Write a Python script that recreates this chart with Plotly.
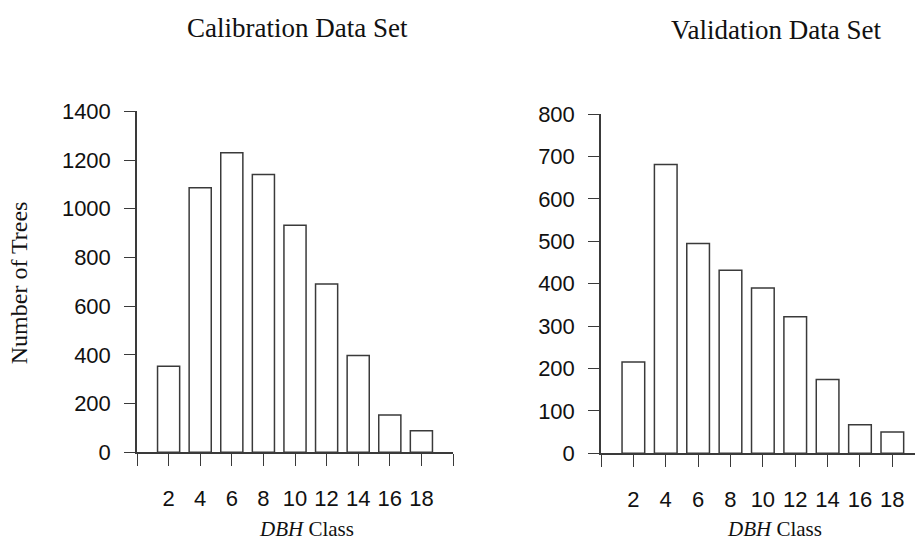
import plotly.graph_objects as go

dbh_class = [2, 4, 6, 8, 10, 12, 14, 16, 18]
calibration_counts = [353, 1086, 1230, 1141, 932, 691, 397, 153, 88]
validation_counts = [215, 681, 495, 432, 390, 322, 174, 67, 50]

x_tickvals = [0, 2, 4, 6, 8, 10, 12, 14, 16, 18, 20]
x_ticktext = ["", "2", "4", "6", "8", "10", "12", "14", "16", "18", ""]
cal_yticks = [0, 200, 400, 600, 800, 1000, 1200, 1400]
val_yticks = [0, 100, 200, 300, 400, 500, 600, 700, 800]

W, H = 915, 556
LINE = "#3a3a3a"
TICKFONT = dict(family="Liberation Sans, Arial, sans-serif", size=22, color="#111")
SERIF = "Liberation Serif, Times New Roman, serif"

def px(xp):
    return xp / W

def py(yp):
    return 1 - yp / H

fig = go.Figure()
fig.add_trace(go.Bar(x=dbh_class, y=calibration_counts, width=1.4,
                     marker=dict(color="white", line=dict(color=LINE, width=1.5)),
                     xaxis="x", yaxis="y", showlegend=False))
fig.add_trace(go.Bar(x=dbh_class, y=validation_counts, width=1.4,
                     marker=dict(color="white", line=dict(color=LINE, width=1.5)),
                     xaxis="x2", yaxis="y2", showlegend=False))

xcommon = dict(tickvals=x_tickvals, ticktext=x_ticktext, showline=True, linecolor=LINE,
               linewidth=1.5, ticks="outside", ticklen=12, tickwidth=1.2, tickcolor=LINE,
               showgrid=False, zeroline=False, tickfont=TICKFONT, ticklabelstandoff=14)
ycommon = dict(showline=True, linecolor=LINE, linewidth=1.5, ticks="outside", ticklen=11,
               tickwidth=1.2, tickcolor=LINE, showgrid=False, zeroline=False,
               tickfont=TICKFONT, ticklabelstandoff=9)

fig.update_layout(
    width=W, height=H, margin=dict(l=0, r=0, t=0, b=0),
    paper_bgcolor="white", plot_bgcolor="white",
    xaxis=dict(domain=[px(137), px(453)], range=[0, 20], anchor="y", **xcommon),
    yaxis=dict(domain=[py(461), py(104)], range=[0, 1400], tickvals=cal_yticks,
               anchor="x", **ycommon),
    xaxis2=dict(domain=[px(601), 1.0], range=[0, 19.4], anchor="y2", **xcommon),
    yaxis2=dict(domain=[py(462), py(107)], range=[0, 800], tickvals=val_yticks,
                anchor="x2", **ycommon),
    annotations=[
        dict(text="Calibration Data Set", x=px(297), y=py(17), xref="paper", yref="paper",
             showarrow=False, xanchor="center", yanchor="middle",
             font=dict(family=SERIF, size=27, color="#111")),
        dict(text="Validation Data Set", x=px(776), y=py(19), xref="paper", yref="paper",
             showarrow=False, xanchor="center", yanchor="middle",
             font=dict(family=SERIF, size=27, color="#111")),
        dict(text="<i>DBH</i> Class", x=px(306), y=0, xref="paper", yref="paper",
             showarrow=False, xanchor="center", yanchor="bottom",
             font=dict(family=SERIF, size=21, color="#111")),
        dict(text="<i>DBH</i> Class", x=px(774), y=0, xref="paper", yref="paper",
             showarrow=False, xanchor="center", yanchor="bottom",
             font=dict(family=SERIF, size=21, color="#111")),
        dict(text="Number of Trees", x=px(19), y=py(284), xref="paper", yref="paper",
             showarrow=False, xanchor="center", yanchor="middle", textangle=-90,
             font=dict(family=SERIF, size=24, color="#111")),
    ],
)

fig.write_html("out.html")
